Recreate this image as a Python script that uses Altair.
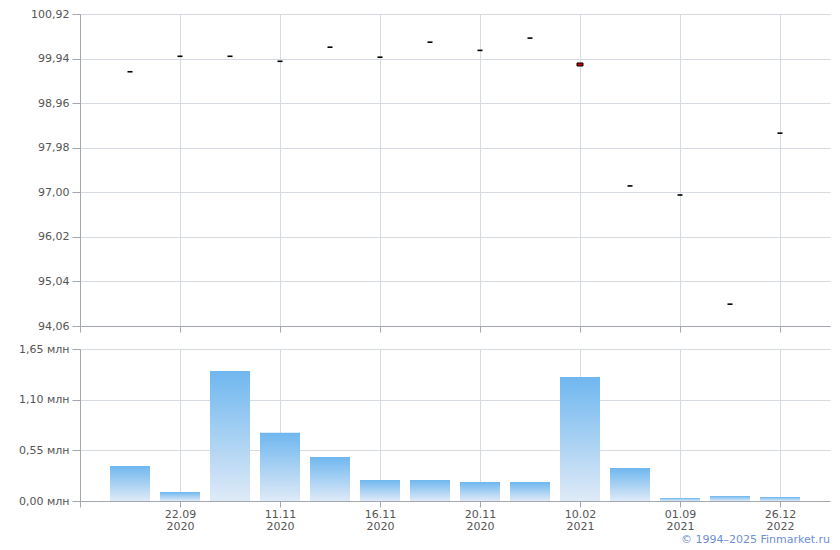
import json
import altair as alt
import pandas as pd

# ---- data ----
idx = list(range(1, 15))
price = [99.65, 99.99, 99.99, 99.88, 100.19, 99.97, 100.30, 100.12, 100.39, 99.81, 97.14, 96.94, 94.54, 98.30]
volume = [0.38, 0.098, 1.41, 0.74, 0.478, 0.228, 0.228, 0.206, 0.206, 1.347, 0.358, 0.033, 0.054, 0.043]
highlight = [False] * 9 + [True] + [False] * 4
tick_dates = ["22.09", "11.11", "16.11", "20.11", "10.02", "01.09", "26.12"]
tick_years = ["2020", "2020", "2020", "2020", "2021", "2021", "2022"]
price_ticks = [94.06, 95.04, 96.02, 97.00, 97.98, 98.96, 99.94, 100.92]
vol_ticks = [0.0, 0.55, 1.10, 1.65]
x_ticks = [0, 2, 4, 6, 8, 10, 12, 14]

df = pd.DataFrame({"i": idx, "price": price, "volume": volume, "hl": highlight})

FONT = "DejaVu Sans"
LABEL = "#555555"
AXIS = "#a3a8b0"
GRID = "#d5dbe0"
YEXT = 62

x_top = alt.X("i:Q", scale=alt.Scale(domain=[0, 15], nice=False, zero=False, padding=0),
              axis=alt.Axis(values=x_ticks, labels=False, title=None, tickSize=6,
                            grid=True))
y_top = alt.Y("price:Q", scale=alt.Scale(domain=[price_ticks[0], price_ticks[-1]], nice=False, zero=False),
              axis=alt.Axis(values=price_ticks, title=None, tickSize=8, labelPadding=3,
                            minExtent=YEXT, maxExtent=YEXT,
                            labelExpr="replace(format(datum.value, '.2f'), '.', ',')"))

base_top = alt.Chart(df)
ticks = base_top.transform_filter("!datum.hl").mark_tick(
    orient="horizontal", size=5, thickness=1.6, color="black", opacity=1
).encode(x=x_top, y=y_top)
hl = base_top.transform_filter("datum.hl").mark_tick(
    orient="horizontal", size=6, thickness=3, color="#cc0000", stroke="black", strokeWidth=1, opacity=1
).encode(x=x_top, y=y_top)
top = alt.layer(ticks, hl).properties(width=750, height=312)

label_expr = (f"datum.value >= 2 ? [{json.dumps(tick_dates)}[datum.value/2-1], "
              f"{json.dumps(tick_years)}[datum.value/2-1]] : ''")
x_bot = alt.X("i:Q", scale=alt.Scale(domain=[0, 15], nice=False, zero=False, padding=0),
              axis=alt.Axis(values=x_ticks, title=None, tickSize=6, labelExpr=label_expr,
                            labelLineHeight=12, labelPadding=1, grid=True))
y_bot = alt.Y("volume:Q", scale=alt.Scale(domain=[0, 1.65], nice=False),
              axis=alt.Axis(values=vol_ticks, title=None, tickSize=8, labelPadding=3,
                            minExtent=YEXT, maxExtent=YEXT,
                            labelExpr="replace(format(datum.value, '.2f'), '.', ',') + ' млн'"))

grad = alt.Gradient(gradient="linear",
                    stops=[alt.GradientStop(color="#6fb7ef", offset=0),
                           alt.GradientStop(color="#dfeaf7", offset=1)],
                    x1=0, x2=0, y1=0, y2=1)
bottom = alt.Chart(df).mark_bar(size=40, color=grad).encode(x=x_bot, y=y_bot).properties(width=750, height=152)

chart = alt.vconcat(top, bottom, spacing=23, bounds="flush").properties(
    padding={"left": 10, "top": 0, "right": 2, "bottom": 0},
    title=alt.TitleParams("© 1994–2025 Finmarket.ru", orient="bottom", anchor="end",
                          color="#6d8fd6", fontSize=11, font=FONT, fontWeight="normal", offset=3),
).configure_axis(
    labelFont=FONT, labelFontSize=11, labelColor=LABEL, domainColor=AXIS, tickColor=AXIS,
    gridColor=GRID, domainWidth=1, tickWidth=1,
).configure_view(stroke=None)

chart.save("out.html", embed_options={"renderer": "svg", "actions": False})
